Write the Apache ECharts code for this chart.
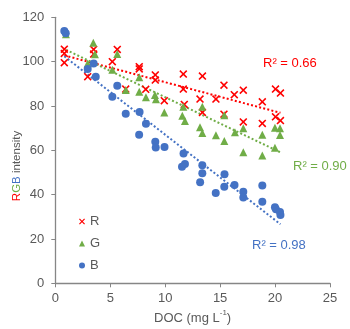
<!DOCTYPE html>
<html><head><meta charset="utf-8">
<script src="https://cdn.jsdelivr.net/npm/echarts@6/dist/echarts.min.js"></script>
<style>html,body{margin:0;padding:0;background:#fff}#c{width:350px;height:329px}</style>
</head><body><div id="c"></div>
<script>
var rX = [0.82,0.82,0.82,2.95,3.49,3.49,5.19,5.64,6.41,7.64,7.64,8.23,9.10,9.10,9.92,11.65,11.65,13.39,11.74,13.17,14.62,15.35,16.29,17.11,20.04,20.49,18.84,13.39,15.35,17.11,18.84,20.04,20.49];
var rY = [105.6,103.7,99.5,93.2,105.5,103.4,100.0,105.5,87.6,97.7,96.7,87.5,94.0,91.7,82.4,94.4,87.6,93.5,80.7,83.1,83.1,89.4,85.1,87.1,87.6,85.8,81.9,77.1,76.3,72.8,72.1,75.1,73.4];
var gX = [0.97,3.46,3.61,2.95,5.64,5.19,6.41,7.64,7.64,8.25,9.07,9.16,9.92,11.65,11.56,11.80,13.38,13.17,13.38,14.62,15.38,15.38,16.35,17.11,18.84,19.99,20.45,20.45,19.99,17.11,18.84];
var gY = [112.3,108.5,103.3,99.2,103.4,96.3,87.2,92.9,86.4,83.9,84.9,83.0,77.0,79.7,75.6,73.2,79.7,70.4,67.8,66.8,75.8,64.2,68.1,69.9,67.0,70.2,69.9,66.9,61.2,59.1,57.7];
var bX = [0.82,0.95,2.95,3.49,3.68,5.19,5.64,6.41,7.67,8.25,7.63,9.10,9.14,9.94,11.67,11.80,11.53,13.38,13.38,13.18,15.40,14.60,15.38,16.31,17.11,17.11,18.84,18.84,19.99,20.08,20.45,20.49];
var bY = [113.8,112.8,96.7,99.2,93.2,84.2,89.1,76.5,77.3,72.0,67.0,63.9,61.3,61.5,58.6,53.8,52.6,53.2,49.6,45.6,49.2,40.7,43.6,44.4,41.3,38.7,44.1,36.8,34.3,33.4,32.2,30.8];
var seriesNames = ['R','G','B'];
var r2Labels = ['R² = 0.66','R² = 0.90','R² = 0.98'];
var xTicks = [0,5,10,15,20,25];
var yTicks = [0,20,40,60,80,100,120];

var colors = ['#FF0000','#70AD47','#4472C4'];
function pairs(xs, ys){ return xs.map(function(x,i){return [x, ys[i]];}); }
function fit(xs, ys){
  var n=xs.length, sx=0, sy=0, sxx=0, sxy=0;
  for(var i=0;i<n;i++){sx+=xs[i];sy+=ys[i];sxx+=xs[i]*xs[i];sxy+=xs[i]*ys[i];}
  var b=(n*sxy-sx*sy)/(n*sxx-sx*sx), a=(sy-b*sx)/n;
  var mn=Math.min.apply(null,xs), mx=Math.max.apply(null,xs);
  return [[mn,a+b*mn],[mx,a+b*mx]];
}
var xPath = 'path://M0,1.4L1.4,0L5,3.6L8.6,0L10,1.4L6.4,5L10,8.6L8.6,10L5,6.4L1.4,10L0,8.6L3.6,5Z';
var symbols = [xPath, 'triangle', 'circle'];
var sizes = [8, 8, 8];
var data = [[rX,rY],[gX,gY],[bX,bY]];
var series = [];
for (var k=0;k<3;k++){
  series.push({type:'line', data: fit(data[k][0], data[k][1]), showSymbol:false, silent:true, z:1,
    lineStyle:{color:colors[k], width:2, type:[2,2.2]}, legendHoverLink:false, name: 'trend'+k});
}
for (var k=0;k<3;k++){
  series.push({type:'scatter', name: seriesNames[k], data: pairs(data[k][0], data[k][1]), symbol: symbols[k], symbolSize: sizes[k],
    itemStyle:{color:colors[k], opacity:1}, z: 3+k});
}
var chart = echarts.init(document.getElementById('c'), null, {renderer:'canvas'});
var txt = '#595959';
var ff = 'Liberation Sans, Arial, sans-serif';
chart.setOption({
  animation:false,
  textStyle:{fontFamily:ff},
  grid:{left:55.3, right:20, top:17.3, bottom:45.7, containLabel:false, outerBoundsMode:'none'},
  legend:{data:seriesNames, orient:'vertical', left:79, top:215, padding:0, itemWidth:6, itemHeight:6, itemGap:9,
    textStyle:{color:txt, fontSize:13, lineHeight:13, fontFamily:ff}},
  xAxis:{type:'value', min:xTicks[0], max:xTicks[xTicks.length-1], interval:5, splitLine:{show:false},
    axisLine:{lineStyle:{color:'#868686', width:1.3}}, axisTick:{show:true, length:4, lineStyle:{color:'#868686'}},
    axisLabel:{color:txt, fontSize:13, margin:9}},
  yAxis:{type:'value', min:yTicks[0], max:yTicks[yTicks.length-1], interval:20, splitLine:{show:false},
    axisLine:{show:true, lineStyle:{color:'#868686', width:1.3}}, axisTick:{show:true, length:4, lineStyle:{color:'#868686'}},
    axisLabel:{color:txt, fontSize:13, margin:11}},
  graphic:[
    {type:'text', left:263, top:57, style:{text:r2Labels[0], fill:colors[0], fontSize:13, fontFamily:ff}},
    {type:'text', left:293, top:160, style:{text:r2Labels[1], fill:colors[1], fontSize:13, fontFamily:ff}},
    {type:'text', left:252, top:239, style:{text:r2Labels[2], fill:colors[2], fontSize:13, fontFamily:ff}},
    {type:'text', left:154, top:309, style:{text:'{n|DOC (mg L}{s|-1}{n|)}', fill:txt, fontFamily:ff,
      rich:{n:{fontSize:13, fill:txt, color:txt, lineHeight:16, verticalAlign:'bottom', fontFamily:ff},
            s:{fontSize:8, fill:txt, color:txt, lineHeight:9, verticalAlign:'top', fontFamily:ff}}}},
    {type:'text', x:17, y:166, rotation:Math.PI/2, style:{text:'{r|R}{g|G}{b|B}{n| intensity}', align:'center', verticalAlign:'middle', fontFamily:ff,
      rich:{r:{fill:colors[0], fontSize:11.5, fontFamily:ff}, g:{fill:colors[1], fontSize:11.5, fontFamily:ff}, b:{fill:colors[2], fontSize:11.5, fontFamily:ff}, n:{fill:txt, fontSize:11.5, fontFamily:ff}}}}
  ],
  series: series
});
</script></body></html>
